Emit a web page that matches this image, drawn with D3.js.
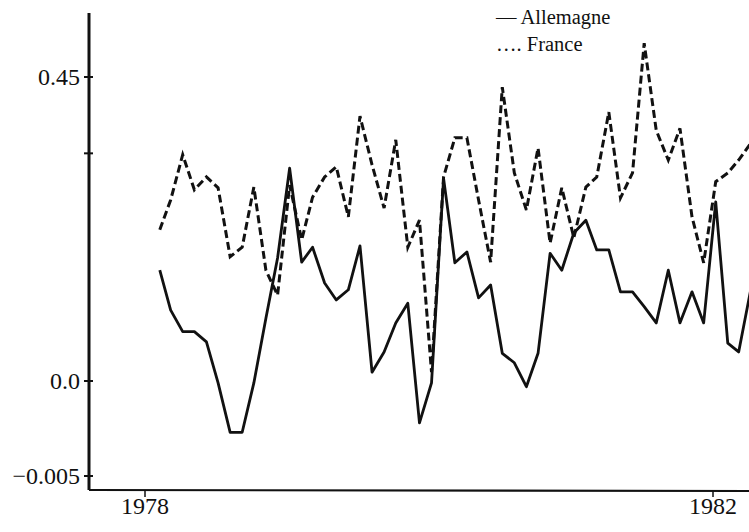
<!DOCTYPE html>
<html>
<head>
<meta charset="utf-8">
<script src="https://cdn.jsdelivr.net/npm/d3@7"></script>
<style>
  body { margin: 0; background: #fff; }
  text { font-family: "Liberation Serif", "DejaVu Serif", serif; fill: #111; }
</style>
</head>
<body>
<script>
// monthly series, Feb 1978 onwards
var allemagne = [0.164, 0.105, 0.073, 0.073, 0.058, -0.0001, -0.0027, -0.0027, -0.0001, 0.093,
                 0.182, 0.315, 0.176, 0.198, 0.145, 0.120, 0.135, 0.200, 0.013, 0.043,
                 0.086, 0.115, -0.0022, -0.0001, 0.300, 0.175, 0.191, 0.123, 0.142, 0.041,
                 0.027, -0.0003, 0.041, 0.189, 0.164, 0.219, 0.238, 0.194, 0.194, 0.132,
                 0.132, 0.110, 0.086, 0.164, 0.086, 0.132, 0.086, 0.265, 0.056, 0.043,
                 0.135];
var france = [0.224, 0.268, 0.335, 0.283, 0.302, 0.286, 0.184, 0.198, 0.287, 0.164,
              0.127, 0.290, 0.209, 0.272, 0.302, 0.317, 0.243, 0.392, 0.320, 0.256,
              0.357, 0.198, 0.238, 0.013, 0.302, 0.360, 0.360, 0.268, 0.176, 0.435,
              0.308, 0.253, 0.345, 0.204, 0.286, 0.212, 0.287, 0.302, 0.398, 0.271,
              0.308, 0.500, 0.371, 0.327, 0.374, 0.243, 0.175, 0.295, 0.308, 0.327,
              0.352];
var months = d3.range(allemagne.length).map(i => d3.timeMonth.offset(new Date(1978, 1, 8), i));

var yTicks = [-0.005, 0.0, 0.45];
var yTickLabels = ["\u22120.005", "0.0", "0.45"];
var yMinorTicks = [0.337];
var xTicks = [1978, 1982];
var legendLabels = ["\u2014 Allemagne", "\u2026. France"];

var width = 749, height = 532;

var svg = d3.select("body").append("svg")
    .attr("width", width)
    .attr("height", height);

// x: time, y: piecewise linear like the printed axis
var x = d3.scaleTime()
    .domain([new Date(1978, 0, 1), new Date(1982, 0, 1)])
    .range([145, 713]);

var y = d3.scaleLinear()
    .domain([-0.005, 0, 0.45])
    .range([476, 381, 77]);

var axisX = 89, axisY = 490;

// y axis
svg.append("line")
    .attr("x1", axisX).attr("x2", axisX)
    .attr("y1", 13).attr("y2", axisY)
    .attr("stroke", "#111").attr("stroke-width", 3);

svg.selectAll(".ytick")
    .data(yTicks.concat(yMinorTicks))
  .enter().append("line")
    .attr("x1", axisX - 5).attr("x2", axisX + 4)
    .attr("y1", d => y(d)).attr("y2", d => y(d))
    .attr("stroke", "#111").attr("stroke-width", 2);

svg.selectAll(".ylabel")
    .data(yTicks)
  .enter().append("text")
    .attr("x", 80)
    .attr("y", d => y(d))
    .attr("dy", "0.35em")
    .attr("text-anchor", "end")
    .style("font-size", "24px")
    .text((d, i) => yTickLabels[i]);

// x axis
svg.append("line")
    .attr("x1", axisX).attr("x2", width)
    .attr("y1", axisY).attr("y2", axisY + 1)
    .attr("stroke", "#111").attr("stroke-width", 2.2);

svg.selectAll(".xtick")
    .data(xTicks)
  .enter().append("line")
    .attr("x1", d => x(new Date(d, 0, 1))).attr("x2", d => x(new Date(d, 0, 1)))
    .attr("y1", axisY).attr("y2", axisY + 7)
    .attr("stroke", "#111").attr("stroke-width", 1.5);

svg.selectAll(".xlabel")
    .data(xTicks)
  .enter().append("text")
    .attr("x", d => x(new Date(d, 0, 1)))
    .attr("y", 514)
    .attr("text-anchor", "middle")
    .style("font-size", "24px")
    .text(d => d);

// lines
var line = d3.line()
    .x((d, i) => x(months[i]))
    .y(d => y(d));

svg.append("path")
    .datum(france)
    .attr("d", line)
    .attr("fill", "none")
    .attr("stroke", "#111")
    .attr("stroke-width", 3)
    .attr("stroke-dasharray", "8,4");

svg.append("path")
    .datum(allemagne)
    .attr("d", line)
    .attr("fill", "none")
    .attr("stroke", "#111")
    .attr("stroke-width", 2.8)
    .attr("stroke-linejoin", "round");

// legend
svg.selectAll(".legend")
    .data(legendLabels)
  .enter().append("text")
    .attr("x", 496)
    .attr("y", (d, i) => 24 + i * 27)
    .style("font-size", "20.5px")
    .text(d => d);
</script>
</body>
</html>
